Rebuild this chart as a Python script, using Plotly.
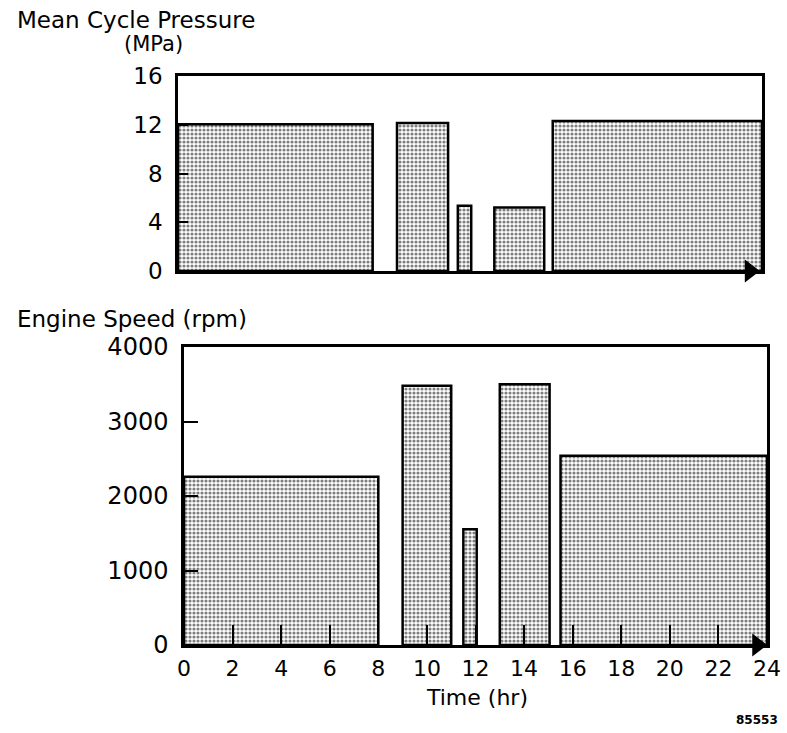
import plotly.graph_objects as go

# ---- data ----
p_start = [0, 9, 11.5, 13, 15.4]
p_end = [8, 11.1, 12.05, 15.05, 24]
pressure_mpa = [12.05, 12.15, 5.35, 5.2, 12.3]

s_start = [0, 9, 11.5, 13, 15.5]
s_end = [8, 11, 12.05, 15.05, 24]
speed_rpm = [2260, 3480, 1555, 3500, 2540]

p_ticks = [0, 4, 8, 12, 16]
s_ticks = [0, 1000, 2000, 3000, 4000]
x_ticks = list(range(0, 25, 2))

FONT = "DejaVu Sans"
W, H = 787, 733

def fx(px):
    return px / W

def fy(py):
    return 1 - py / H

pattern = dict(shape=".", fgcolor="black", bgcolor="white", size=4, solidity=0.5)

def mids(a, b):
    return [(x + y) / 2 for x, y in zip(a, b)]

def widths(a, b):
    return [y - x for x, y in zip(a, b)]

fig = go.Figure()
fig.add_trace(go.Bar(x=mids(p_start, p_end), y=pressure_mpa, width=widths(p_start, p_end),
                     marker=dict(color="white", pattern=pattern, line=dict(color="black", width=2.5)),
                     xaxis="x", yaxis="y", showlegend=False, hoverinfo="skip"))
fig.add_trace(go.Bar(x=mids(s_start, s_end), y=speed_rpm, width=widths(s_start, s_end),
                     marker=dict(color="white", pattern=pattern, line=dict(color="black", width=2.5)),
                     xaxis="x2", yaxis="y2", showlegend=False, hoverinfo="skip"))
# axis arrows
fig.add_trace(go.Scatter(x=[23.5], y=[0], mode="markers", marker=dict(symbol="triangle-right", size=20, color="black"),
                         xaxis="x", yaxis="y", showlegend=False, cliponaxis=False, hoverinfo="skip"))
fig.add_trace(go.Scatter(x=[23.6], y=[0], mode="markers", marker=dict(symbol="triangle-right", size=20, color="black"),
                         xaxis="x2", yaxis="y2", showlegend=False, cliponaxis=False, hoverinfo="skip"))

axis_common = dict(showgrid=False, zeroline=False, showline=True, linecolor="black", linewidth=2.5,
                   mirror=True, automargin=False)

fig.update_layout(
    width=W, height=H,
    margin=dict(l=0, r=0, t=0, b=0),
    paper_bgcolor="white", plot_bgcolor="white",
    barmode="overlay",
    font=dict(family=FONT, color="black"),
    xaxis=dict(domain=[fx(178), fx(762)], range=[0, 24], anchor="y", showticklabels=False, ticks="", **axis_common),
    yaxis=dict(domain=[fy(271), fy(76)], range=[0, 16], anchor="x", tickvals=p_ticks,
               ticks="inside", ticklen=10, tickwidth=2, tickcolor="black",
               tickfont=dict(size=23, family=FONT), ticklabelstandoff=8, **axis_common),
    xaxis2=dict(domain=[fx(184), fx(767)], range=[0, 24], anchor="y2", tickvals=x_ticks,
                ticks="inside", ticklen=20, tickwidth=2, tickcolor="black",
                tickfont=dict(size=22, family=FONT), ticklabelstandoff=2, **axis_common),
    yaxis2=dict(domain=[fy(645), fy(347)], range=[0, 4000], anchor="x2", tickvals=s_ticks,
                ticks="inside", ticklen=14, tickwidth=2, tickcolor="black",
                tickfont=dict(size=24, family=FONT), ticklabelstandoff=8, **axis_common),
    annotations=[
        dict(text="Mean Cycle Pressure", x=fx(15), y=fy(20), xref="paper", yref="paper",
             xanchor="left", yanchor="middle", showarrow=False, font=dict(size=23, family=FONT)),
        dict(text="(MPa)", x=fx(153), y=fy(44), xref="paper", yref="paper",
             xanchor="center", yanchor="middle", showarrow=False, font=dict(size=21, family=FONT)),
        dict(text="Engine Speed (rpm)", x=fx(15), y=fy(319), xref="paper", yref="paper",
             xanchor="left", yanchor="middle", showarrow=False, font=dict(size=23, family=FONT)),
        dict(text="Time (hr)", x=fx(477), y=fy(697), xref="paper", yref="paper",
             xanchor="center", yanchor="middle", showarrow=False, font=dict(size=22, family=FONT)),
        dict(text="<b>85553</b>", x=fx(757), y=fy(720), xref="paper", yref="paper",
             xanchor="center", yanchor="middle", showarrow=False, font=dict(size=12, family=FONT)),
    ],
)

fig.write_html("out.html")
